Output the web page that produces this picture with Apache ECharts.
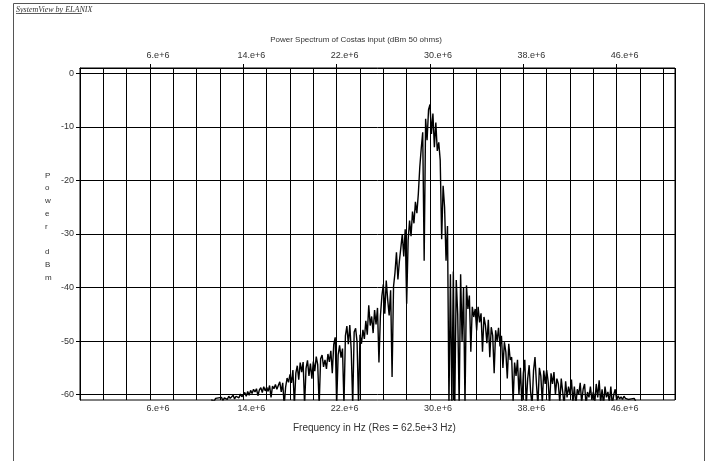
<!DOCTYPE html>
<html>
<head>
<meta charset="utf-8">
<title>Power Spectrum of Costas input</title>
<script src="https://cdn.jsdelivr.net/npm/echarts@6/dist/echarts.min.js"></script>
<style>
    html, body { margin: 0; padding: 0; background: #fff; }
    #chart { width: 711px; height: 461px; }
</style>
</head>
<body>
<div id="chart"></div>
<script>
    // frequency bins of the trace (Hz)
    var freqStart = 11.25e6;
    var freqStep = 0.125e6;

    // power, dBm (below -61 is clipped at the frame)
    var powerDbm = [
        -61.0, -60.8, -61.2, -60.7, -61.0, -60.6,
        -60.9, -60.5, -61.1, -60.6, -60.4, -60.9, -60.3, -60.7,
        -60.5, -60.1, -60.8, -60.3, -60.0, -60.6, -59.9, -60.4,
        -60.0, -59.6, -60.3, -59.4, -60.1, -59.2, -59.8, -59.0,
        -59.5, -58.9, -60.2, -59.1, -58.7, -59.6, -58.5, -59.3,
        -58.6, -59.4, -58.3, -60.5, -58.4, -58.9, -58.1, -59.0,
        -58.3, -57.6, -59.5, -57.8, -62.0, -58.6, -56.9, -57.7,
        -56.2, -57.8, -55.4, -62.0, -56.0, -54.6, -57.2, -54.0,
        -55.8, -53.9, -62.0, -55.1, -53.6, -56.5, -54.2, -57.0,
        -53.8, -55.6, -52.9, -54.4, -62.0, -53.3, -52.6, -54.8,
        -53.5, -55.2, -52.4, -53.9, -51.8, -56.0, -50.6, -49.3,
        -62.0, -52.6, -50.8, -53.1, -51.4, -62.0, -49.0, -47.2,
        -50.6, -47.0, -51.8, -62.0, -48.3, -47.6, -50.2, -62.0,
        -48.8, -50.5, -47.9, -49.6, -46.2, -48.8, -43.3, -47.1,
        -45.4, -48.5, -44.2, -46.9, -43.8, -54.0, -45.3, -41.6,
        -39.4, -44.9, -38.7, -42.3, -45.2, -40.5, -56.7, -39.8,
        -37.2, -33.4, -38.5, -35.1, -32.6, -30.0, -34.2, -29.1,
        -43.0, -31.2, -27.5, -30.4, -25.8, -28.0, -24.0, -26.1,
        -22.5, -17.5, -14.0, -11.0, -35.0, -8.5, -12.5, -6.8,
        -5.8, -11.3, -7.5, -13.8, -9.2, -14.5, -12.9, -16.2,
        -31.0, -21.0, -25.0, -35.0, -28.5, -62.0, -37.5, -62.0,
        -37.0, -62.0, -38.6, -45.0, -62.0, -37.5, -50.0, -40.0,
        -62.0, -39.6, -44.0, -41.5, -52.0, -43.6, -45.5, -44.0,
        -48.0, -43.6, -46.5, -44.8, -52.0, -45.5, -47.0, -50.4,
        -46.0, -53.0, -47.4, -49.0, -56.0, -48.0, -50.0, -47.5,
        -51.0, -49.0, -55.0, -50.2, -52.0, -57.0, -50.5, -53.5,
        -53.0, -61.5, -54.0, -56.5, -53.5, -60.0, -55.0, -62.0,
        -56.0, -53.5, -62.0, -57.0, -54.5, -59.5, -62.0, -55.5,
        -53.0, -58.0, -62.0, -55.0, -56.5, -61.5, -55.5, -58.0,
        -55.4, -57.5, -62.0, -56.0, -58.0, -55.8, -60.0, -57.0,
        -58.0, -61.5, -57.0, -59.5, -62.0, -57.5, -60.5, -58.5,
        -60.0, -57.2, -61.5, -58.5, -62.0, -59.0, -60.0, -57.8,
        -61.5, -59.0, -58.0, -62.0, -59.5, -60.5, -58.5, -61.0,
        -59.5, -61.5, -58.0, -60.5, -57.3, -61.5, -59.0, -62.0,
        -58.5, -60.5, -59.5, -61.5, -58.5, -62.0, -60.0, -59.0,
        -61.0, -60.2, -60.8, -60.4, -60.9, -60.3, -60.7, -60.5,
        -60.9, -60.6, -60.8, -61.0, -60.7, -61.2
    ];

    // axis labels
    var xLabelValues = [6e6, 14e6, 22e6, 30e6, 38e6, 46e6];
    var yLabelValues = [0, -10, -20, -30, -40, -50, -60];

    var seriesData = powerDbm.map(function (v, i) {
        return [freqStart + i * freqStep, v];
    });

    var font = "'Liberation Sans', Arial, sans-serif";
    var textColor = '#333';

    function freqLabel(v) {
        return (v / 1e6) + '.e+6';
    }

    var chart = echarts.init(document.getElementById('chart'));

    var option = {
        animation: false,
        backgroundColor: '#fff',
        title: {
            text: 'Power Spectrum of Costas input (dBm 50 ohms)',
            left: 351,
            top: 31,
            textAlign: 'center',
            textStyle: { fontFamily: font, fontSize: 8, fontWeight: 'normal', color: textColor }
        },
        grid: {
            left: 80, right: 36, top: 68, bottom: 61,
            show: true, borderColor: '#000', borderWidth: 1
        },
        xAxis: [
            {
                type: 'value', min: 0, max: 51e6, position: 'bottom',
                axisLine: { show: true, lineStyle: { color: '#000' } },
                axisTick: { show: true, customValues: xLabelValues, length: 4, lineStyle: { color: '#000' } },
                axisLabel: {
                    customValues: xLabelValues, formatter: freqLabel, margin: 4,
                    fontFamily: font, fontSize: 9, color: textColor, padding: [0, 0, 0, 16]
                },
                splitLine: { show: false }
            },
            {
                type: 'value', min: 0, max: 51e6, position: 'top',
                axisLine: { show: true, lineStyle: { color: '#000' } },
                axisTick: { show: true, customValues: xLabelValues, length: 4, lineStyle: { color: '#000' } },
                axisLabel: {
                    customValues: xLabelValues, formatter: freqLabel, margin: 8,
                    fontFamily: font, fontSize: 9, color: textColor, padding: [0, 0, 0, 16]
                },
                splitLine: { show: false }
            },
            {
                // vertical grid every 2e6
                type: 'value', min: 0, max: 51e6, interval: 2e6, position: 'bottom',
                axisLine: { show: false }, axisTick: { show: false }, axisLabel: { show: false },
                splitLine: { show: true, lineStyle: { color: '#000', width: 1 } }
            }
        ],
        yAxis: {
            type: 'value', min: -61, max: 1,
            axisLine: { show: true, lineStyle: { color: '#000' } },
            axisTick: { show: true, customValues: yLabelValues, length: 4, lineStyle: { color: '#000' } },
            axisLabel: {
                customValues: yLabelValues, margin: 6,
                fontFamily: font, fontSize: 9, color: textColor, padding: [0, 0, 4, 0]
            },
            splitLine: { show: false }
        },
        series: [{
            type: 'line',
            xAxisIndex: 0,
            data: seriesData,
            showSymbol: false,
            symbol: 'none',
            clip: true,
            lineStyle: { color: '#000', width: 1.4 },
            markLine: {
                silent: true,
                symbol: ['none', 'none'],
                label: { show: false },
                lineStyle: { color: '#000', width: 1, type: 'solid' },
                data: yLabelValues.map(function (v) { return { yAxis: v }; })
            }
        }],
        graphic: [
            {
                type: 'rect', silent: true,
                shape: { x: 13.5, y: 3.5, width: 691, height: 470 },
                style: { fill: 'none', stroke: '#555', lineWidth: 1 }
            },
            {
                type: 'text', left: 16, top: 6,
                style: {
                    text: 'SystemView by ELANIX',
                    font: 'italic 8px "Liberation Serif", "Times New Roman", serif',
                    fill: '#333'
                }
            },
            {
                type: 'line', silent: true,
                shape: { x1: 16, y1: 13.5, x2: 82, y2: 13.5 },
                style: { stroke: '#333', lineWidth: 0.8 }
            },
            {
                type: 'text', left: 45, top: 169,
                style: {
                    text: 'P\no\nw\ne\nr\n\nd\nB\nm',
                    font: '8px ' + font,
                    lineHeight: 12.8,
                    align: 'center',
                    fill: textColor
                }
            },
            {
                type: 'text', left: 293, top: 423,
                style: {
                    text: 'Frequency in Hz (Res = 62.5e+3 Hz)',
                    font: '10px ' + font,
                    fill: textColor
                }
            }
        ]
    };

    chart.setOption(option);

    window.addEventListener('resize', function () {
        chart.resize();
    });
</script>
</body>
</html>
